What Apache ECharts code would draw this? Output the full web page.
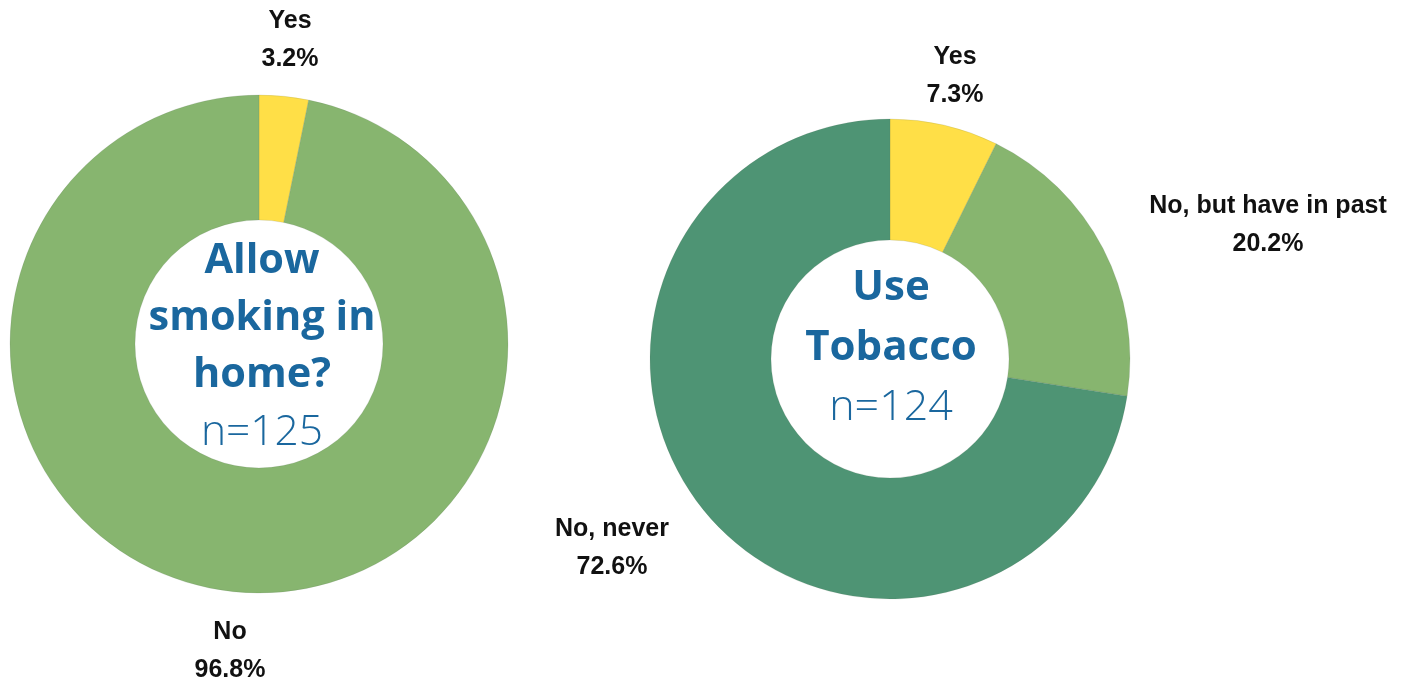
<!DOCTYPE html>
<html>
<head>
<meta charset="utf-8">
<script src="https://cdn.jsdelivr.net/npm/echarts@6/dist/echarts.min.js"></script>
<style>
  html, body { margin: 0; padding: 0; background: #ffffff; }
  #chart { width: 1408px; height: 685px; }
</style>
</head>
<body>
<div id="chart"></div>
<script>
// Survey answers (percent of respondents)
const homeCategories = ['Yes', 'No'];
const homeValues = [3.2, 96.8];
const homeTitle = ['Allow', 'smoking in', 'home?'];
const homeN = 'n=125';

const tobaccoCategories = ['Yes', 'No, but have in past', 'No, never'];
const tobaccoValues = [7.3, 20.2, 72.6];
const tobaccoTitle = ['Use', 'Tobacco'];
const tobaccoN = 'n=124';

// Slice colours
const homeColors = ['#ffdf47', '#87b56f'];
const tobaccoColors = ['#ffdf47', '#87b56f', '#4e9474'];

// Label anchor points (pixels) for each slice label
const homeLabelPos = [[290, 40], [230, 651]];
const tobaccoLabelPos = [[955, 76], [1268, 225], [612, 548]];

const labelFont = '"Liberation Sans", Arial, sans-serif';
const titleFont = '"Open Sans", "Noto Sans", sans-serif';
const titleBlue = '#1a679e';

function buildData(cats, vals, colors) {
  return cats.map((c, i) => ({ name: c, value: vals[i], itemStyle: { color: colors[i] } }));
}

function pieSeries(cats, vals, colors, center, radius, labelPos) {
  return {
    type: 'pie',
    center: center,
    radius: radius,
    startAngle: 90,
    clockwise: true,
    silent: true,
    data: buildData(cats, vals, colors),
    itemStyle: { borderColor: 'rgba(90,110,90,0.25)', borderWidth: 0.6 },
    label: {
      show: true,
      position: 'outside',
      formatter: p => p.name + '\n' + p.value.toFixed(1) + '%',
      fontFamily: labelFont,
      fontWeight: 'bold',
      fontSize: 25,
      lineHeight: 38,
      color: '#111111',
      align: 'center'
    },
    labelLine: { show: false },
    labelLayout: params => ({
      x: labelPos[params.dataIndex][0],
      y: labelPos[params.dataIndex][1],
      align: 'center',
      verticalAlign: 'middle'
    })
  };
}

function centerText(lines, nText, x, y, lh, size) {
  const body = lines.map(l => '{a|' + l + '}').join('\n') + '\n{b|' + nText + '}';
  return {
    type: 'text',
    x: x,
    y: y,
    style: {
      text: body,
      align: 'center',
      verticalAlign: 'middle',
      rich: {
        a: { fontFamily: titleFont, fontWeight: 'bold', fontSize: size, lineHeight: lh, fill: titleBlue, align: 'center' },
        b: { fontFamily: titleFont, fontWeight: 300, fontSize: size + 1, lineHeight: lh, fill: titleBlue, align: 'center' }
      }
    }
  };
}

const chart = echarts.init(document.getElementById('chart'), null, { renderer: 'canvas' });
chart.setOption({
  backgroundColor: '#ffffff',
  animation: false,
  series: [
    pieSeries(homeCategories, homeValues, homeColors, [259, 344], [124, 249], homeLabelPos),
    pieSeries(tobaccoCategories, tobaccoValues, tobaccoColors, [890, 359], [119, 240], tobaccoLabelPos)
  ],
  graphic: [
    centerText(homeTitle, homeN, 262, 347, 57, 41.5),
    centerText(tobaccoTitle, tobaccoN, 891, 348, 60, 42)
  ]
});
</script>
</body>
</html>
